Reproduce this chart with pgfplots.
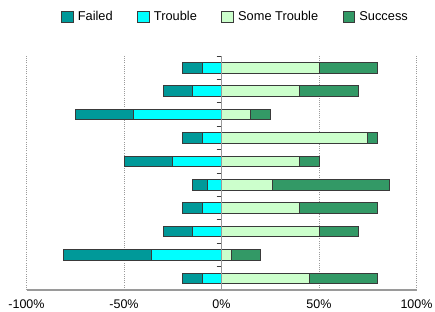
\documentclass[border=0pt]{standalone}
\usepackage{pgfplots}
\pgfplotsset{compat=1.18}
\usepackage{fontspec}
\setmainfont{Liberation Sans}
\definecolor{cFailed}{HTML}{009999}
\definecolor{cTrouble}{HTML}{00FFFF}
\definecolor{cSome}{HTML}{CCFFCC}
\definecolor{cSuccess}{HTML}{339966}
\definecolor{cEdge}{HTML}{3A3A3A}
\definecolor{cAxis}{HTML}{9A9A9A}
\begin{document}
\begin{tikzpicture}
\useasboundingbox (0,0) rectangle (435pt,311pt);
\pgfplotsset{
 base/.style={at={(26.5pt,21pt)}, anchor=south west, scale only axis,
   width=390pt, height=234pt, xmin=-100, xmax=100, ymin=0.5, ymax=10.5,
   xbar stacked, bar width=10.5pt,
   tick label style={font=\fontsize{12.5}{14}\selectfont}},
 mybar/.style={fill=#1, draw=cEdge, line width=0.8pt},
 legbox/.style={legend image code/.code={\draw[fill=#1, draw=cEdge, line width=0.8pt] (0pt,-5pt) rectangle (11.5pt,5.5pt);}},
}
% negative side: Trouble (inner), Failed (outer)
\begin{axis}[base, axis line style={draw=none}, ytick=\empty,
  xtick={-100,-50,0,50,100}, xticklabels={-100\%,-50\%,0\%,50\%,100\%},
  xtick style={draw=none}, xmajorgrids,
  grid style={cAxis, dash pattern=on 1pt off 1.2pt, line width=0.9pt},
  xticklabel style={yshift=-6pt}]
\addplot[mybar=cTrouble] coordinates {(-10,10) (-15,9) (-45,8) (-10,7) (-25,6) (-7,5) (-10,4) (-15,3) (-36,2) (-10,1)};
\addplot[mybar=cFailed] coordinates {(-10,10) (-15,9) (-30,8) (-10,7) (-25,6) (-8,5) (-10,4) (-15,3) (-45,2) (-10,1)};
\end{axis}
% positive side: Some Trouble (inner), Success (outer)
\begin{axis}[base, axis x line=bottom, axis y line=center,
  axis line style={-, cAxis, line width=1.1pt}, axis on top,
  xtick=\empty, ytick={0.5,1.5,...,10.5}, yticklabel style={opacity=0, text opacity=0},
  tick align=outside, ytick style={cEdge, line width=0.8pt}, major tick length=5pt,
  legend columns=4,
  legend style={at={(0.088,1.168)}, anchor=west, draw=none, fill=none, inner sep=0pt,
    font=\fontsize{12.8}{14}\selectfont, nodes={inner sep=0pt},
    /tikz/every odd column/.append style={column sep=4.5pt},
    /tikz/every even column/.append style={column sep=24.5pt}}]
\addlegendimage{legbox=cFailed}
\addlegendimage{legbox=cTrouble}
\addplot[mybar=cSome, legbox=cSome] coordinates {(50,10) (40,9) (15,8) (75,7) (40,6) (26,5) (40,4) (50,3) (5,2) (45,1)};
\addplot[mybar=cSuccess, legbox=cSuccess] coordinates {(30,10) (30,9) (10,8) (5,7) (10,6) (60,5) (40,4) (20,3) (15,2) (35,1)};
\legend{Failed, Trouble, Some Trouble, Success}
\end{axis}
\end{tikzpicture}
\end{document}
